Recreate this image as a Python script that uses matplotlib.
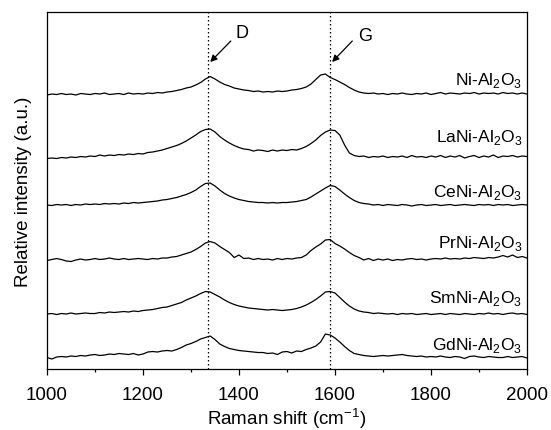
import numpy as np
import matplotlib
matplotlib.use("Agg")
import matplotlib.pyplot as plt

plt.rcParams['font.family'] = ['Liberation Sans', 'DejaVu Sans']
plt.rcParams['mathtext.fontset'] = 'custom'
plt.rcParams['mathtext.rm'] = 'Liberation Sans'

raman_shift = np.arange(1000, 2001, 10)

samples = ['Ni-Al$_2$O$_3$', 'LaNi-Al$_2$O$_3$', 'CeNi-Al$_2$O$_3$',
           'PrNi-Al$_2$O$_3$', 'SmNi-Al$_2$O$_3$', 'GdNi-Al$_2$O$_3$']

ni = [0, 1, 0.5, 1.5, 0.5, 1, 0, 1.5, 1, 0.5,
      1.5, 1, 2, 0.5, 1, 1.5, 0.5, 2, 1, 1.5,
      1, 2, 1.5, 2.5, 2, 3, 3.5, 4.5, 5.5, 7,
      8, 10, 12.5, 16, 18.5, 16, 13, 10.5, 9, 7,
      6, 5, 4.5, 3.5, 4, 3, 3.5, 3, 4, 3.5,
      4, 5, 5.5, 6.5, 8, 11, 15.5, 20, 21, 17.5,
      15.5, 13, 10.5, 7.5, 5, 3, 2, 1.5, 2, 1,
      1.5, 0.5, 1.5, 1, 2, 1, 0.5, 1.5, 1, 2,
      0.5, 1.5, 2.5, 1, 2, 1.5, 1, 2, 1.5, 2.5,
      1, 2, 1.5, 2, 1, 2.5, 1.5, 2, 1, 2, 1]

lani = [-1.5, -1, -1.5, -0.5, -1, 0, -0.5, 0.5, 0, 1,
        0.5, 2, 1, 2, 1.5, 2.5, 2, 3, 2.5, 3.5,
        3, 4.5, 5, 6, 7, 8.5, 10, 11.5, 13.5, 16,
        19, 22, 25.5, 27.5, 28, 25, 20.5, 17, 14, 11.5,
        9.5, 8, 7.5, 6, 7, 6.5, 5.5, 7, 6, 7,
        6.5, 7.5, 7, 8.5, 10.5, 13.5, 17, 21.5, 25, 27,
        26.5, 22, 12, 4, 1.5, 0.5, 1, -0.5, 0.5, 0,
        1, -0.5, 0.5, 0, 1, -0.5, 1.5, 0, 0.5, -0.5,
        1, 0, 1.5, -0.5, 1, 0, 1.5, -1, 0.5, 1.5,
        -0.5, 1, 0, 2, -0.5, 1, 0.5, 1.5, 0, 1, 0.5]

ceni = [0, -0.5, 0.5, 0, 0.5, -0.5, 0.5, 0, 1, 0.5,
        1, 0.5, 1.5, 1, 1.5, 1, 2, 1.5, 2.5, 2,
        2.5, 3, 3.5, 4, 5, 5.5, 6.5, 7.5, 9, 10.5,
        12.5, 15, 18.5, 21.5, 22, 19, 15, 11.5, 9, 7,
        5.5, 4.5, 3.5, 3, 2.5, 2.5, 2, 2.5, 2, 2.5,
        2.5, 3, 3.5, 4.5, 5.5, 8, 11, 14, 17, 19.5,
        18.5, 15, 11, 7.5, 4.5, 2.5, 1.5, 1, 0, 0.5,
        -0.5, 0.5, 0, -0.5, 0.5, 0, -1, 0, 0.5, -0.5,
        0, 0.5, -0.5, 0, 0.5, -0.5, 0, 0.5, 0, -0.5,
        0.5, 0, 0.5, -0.5, 0.5, 0, 0.5, -0.5, 0, 0.5, 0]

prni = [-0.5, 0.5, 1.5, 0.5, -1, -1.5, 0, 1, 0, 0.5,
        1.5, 0.5, 1, 2, 1, 0.5, 1.5, 0.5, 1, 1.5,
        1, 0.5, 1.5, 1, 2, 2, 3, 3.5, 5, 6.5,
        8, 10.5, 13.5, 17, 18.5, 17, 13.5, 10.5, 7.5, 2.5,
        5, 1.5, 2, 0.5, 1.5, 0.5, 1, 0, 1.5, 0.5,
        1.5, 1, 2, 2.5, 5, 9.5, 13, 16, 20, 20.5,
        16.5, 14, 11, 7.5, 4.5, 2.5, 0, 1.5, -0.5, 1,
        0, 1, -0.5, 0.5, 0, 1, 1.5, 0.5, 1, 0,
        1, 1.5, 1, 2, 1, 1.5, 1, 2, 1.5, 2.5,
        2, 1.5, 2.5, 2, 3, 4.5, 3, 5, 2.5, 3.5, 2]

smni = [0, 0.5, -0.5, 0.5, 0, 1, 0, 0.5, 1, 0.5,
        0.5, 1.5, 1, 2, 1.5, 2, 2.5, 2, 3, 2.5,
        3.5, 4, 4.5, 5.5, 6.5, 7, 8.5, 10, 11.5, 14,
        16, 18, 20.5, 22.5, 22, 19.5, 17, 14, 11.5, 9.5,
        8, 7, 6, 5.5, 5, 4.5, 4, 4.5, 4, 3.5,
        4, 4.5, 5.5, 7, 9, 11.5, 14.5, 18, 22, 22.5,
        21, 16.5, 12, 8, 5, 3, 2, 1.5, 0.5, 1,
        0.5, 0, 0.5, -0.5, 0.5, 0, 0.5, -0.5, 0, 0.5,
        -0.5, 0, 0.5, -0.5, 0.5, 0, -0.5, 0.5, 0, -0.5,
        0.5, 0, 1, 0, 0.5, -0.5, 0.5, 1, 0, 0.5, -0.5]

gdni = [-0.5, -2, 0, 0.5, 0, 1, 0.5, 1.5, 1, 2,
        2.5, 1.5, 2, 3, 2.5, 3.5, 3, 2.5, 3.5, 2,
        3, 5, 5.5, 5, 6, 6.5, 6, 7.5, 9.5, 12,
        13.5, 15.5, 18, 19.5, 21, 17.5, 13, 10.5, 8.5, 7.5,
        6.5, 6, 5.5, 5, 4.5, 4.5, 3.5, 4, 2.5, 5,
        5.5, 4, 6, 5.5, 7.5, 9, 11, 15, 23, 22,
        19, 15, 10.5, 6.5, 3.5, 2.5, 1.5, 1, 0.5, 1,
        1.5, 1, 1.5, 2, 2.5, 1.5, 1, 0.5, 1, 0,
        0.5, 0, 1, 0, -0.5, 0.5, 0, -1.5, 0.5, 1,
        0, -0.5, 0.5, 0, -0.5, -0.5, 0.5, -0.5, 0, 0.5, -1]

spectra = [ni, lani, ceni, prni, smni, gdni]
offsets = [274, 212, 164, 109, 55, 12]
label_y = [290, 233, 178, 127, 72, 25]

d_band = 1336
g_band = 1590

fig = plt.figure(figsize=(5.51, 4.31), dpi=100)
ax = fig.add_axes([0.0853, 0.1415, 0.8711, 0.8283])

for spec, off, name, ly in zip(spectra, offsets, samples, label_y):
    ax.plot(raman_shift, np.array(spec) + off, color='black', lw=0.9)
    ax.text(1990, ly, name, ha='right', va='center', fontsize=12.5)

ax.axvline(d_band, color='black', ls=(0, (1.2, 2)), lw=0.9)
ax.axvline(g_band, color='black', ls=(0, (1.2, 2)), lw=0.9)

arrow = dict(arrowstyle='-|>', color='black', lw=0.9, mutation_scale=10)
ax.annotate('', xy=(d_band, 305), xytext=(1387, 330), arrowprops=arrow)
ax.annotate('', xy=(g_band, 305), xytext=(1640, 330), arrowprops=arrow)
ax.text(1407, 337, 'D', fontsize=13, ha='center', va='center')
ax.text(1663, 334, 'G', fontsize=13, ha='center', va='center')

ax.set_xlim(1000, 2000)
ax.set_ylim(0, 357)
ax.set_xticks([1000, 1200, 1400, 1600, 1800, 2000])
ax.set_xticks(np.arange(1100, 2000, 200), minor=True)
ax.set_yticks([])
ax.tick_params(axis='x', which='major', direction='out', length=4.5, width=0.9,
               labelsize=13.5, pad=8)
ax.tick_params(axis='x', which='minor', direction='out', length=2.3, width=0.9)
for s in ax.spines.values():
    s.set_linewidth(0.9)

ax.set_xlabel('Raman shift (cm$^{-1}$)', fontsize=13.5, labelpad=1)
ax.set_ylabel('Relative intensity (a.u.)', fontsize=13.5, labelpad=11)

fig.savefig('out.png', dpi=100)
